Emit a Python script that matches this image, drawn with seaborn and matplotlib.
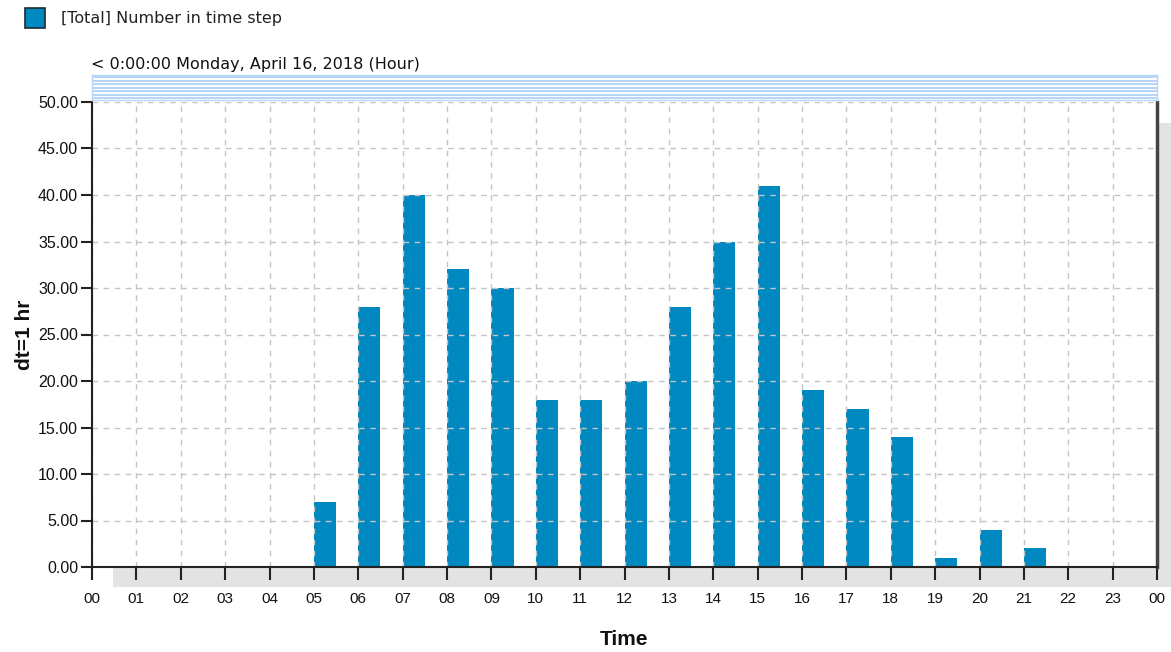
import numpy as np
import pandas as pd
import matplotlib
matplotlib.use("Agg")
import matplotlib.pyplot as plt
from matplotlib.patches import Rectangle
import seaborn as sns

# Hourly counts for the day
hours = [5, 6, 7, 8, 9, 10, 11, 12, 13, 14, 15, 16, 17, 18, 19, 20, 21]
counts = [7, 28, 40, 32, 30, 18, 18, 20, 28, 35, 41, 19, 17, 14, 1, 4, 2]
hour_labels = ["00", "01", "02", "03", "04", "05", "06", "07", "08", "09", "10", "11",
               "12", "13", "14", "15", "16", "17", "18", "19", "20", "21", "22", "23", "00"]
y_ticks = [0, 5, 10, 15, 20, 25, 30, 35, 40, 45, 50]
series_name = "[Total] Number in time step"
period_label = "< 0:00:00 Monday, April 16, 2018 (Hour)"

bar_color = "#0088C0"
grid_color = "#c4c4c4"

sns.set_theme(style="white")
plt.rcParams["font.family"] = ["Liberation Sans", "DejaVu Sans"]

df = pd.DataFrame({"hour": hours, "count": counts})

fig = plt.figure(figsize=(11.71, 6.52), dpi=100)
L, R, B, T = 92 / 1171, 1157 / 1171, 1 - 567 / 652, 1 - 102 / 652

# drop shadow behind the plot area
shadow = Rectangle((L + 21 / 1171, B - 20 / 652), R - L, T - B - 1 / 652,
                   transform=fig.transFigure, facecolor="#e3e3e3", edgecolor="none", zorder=-5)
fig.patches.append(shadow)

ax = fig.add_axes([L, B, R - L, T - B])
ax.set_facecolor("white")

# half-hour wide bars starting at each hour mark
ax.bar(df["hour"], df["count"], width=0.5, align="edge", color=bar_color,
       edgecolor="none", zorder=2)
sns.despine(ax=ax, top=True, right=False)

ax.set_xlim(0, 24)
ax.set_ylim(0, 50)
ax.set_xticks(range(25))
ax.set_xticklabels(hour_labels, fontsize=11)
ax.set_yticks(y_ticks)
ax.set_yticklabels([f"{v:.2f}" for v in y_ticks], fontsize=11.5)
ax.tick_params(axis="both", direction="out", width=1.5, color="#222222",
               labelcolor="#111111", bottom=True, left=True)
ax.tick_params(axis="x", length=9, pad=9)
ax.tick_params(axis="y", length=8, pad=2)
ax.grid(True, color=grid_color, linestyle=(0, (4, 4)), linewidth=1, zorder=3)
ax.set_axisbelow(False)
for sp in ["left", "bottom"]:
    ax.spines[sp].set_color("#222222")
    ax.spines[sp].set_linewidth(1.5)
ax.spines["right"].set_color("#444444")
ax.spines["right"].set_linewidth(2.5)
for sp in ax.spines.values():
    sp.set_zorder(5)

ax.set_xlabel("Time", fontsize=15, fontweight="bold", labelpad=17, color="#111111")
ax.set_ylabel("dt=1 hr", fontsize=15, fontweight="bold", labelpad=3, color="#111111")

# header band above the plot
hb = fig.add_axes([L, 1 - 100 / 652, R - L, 25 / 652])
hb.set_xlim(0, 1)
hb.set_ylim(0, 1)
hb.set_facecolor("white")
for y in np.linspace(0.08, 0.92, 7):
    hb.axhline(y, color="#a9cdf5", linewidth=1.2)
hb.set_xticks([])
hb.set_yticks([])
for sp in hb.spines.values():
    sp.set_color("#b8d6f7")
    sp.set_linewidth(1)

fig.text(91 / 1171, 1 - 65 / 652, period_label, fontsize=11.5, family="DejaVu Sans",
         color="#111111", va="center", ha="left")

# legend swatch and label
fig.patches.append(Rectangle((25 / 1171, 1 - 28 / 652), 20 / 1171, 20 / 652,
                             transform=fig.transFigure, facecolor=bar_color,
                             edgecolor="#1a2a33", linewidth=1.2))
fig.text(61 / 1171, 1 - 18 / 652, series_name, fontsize=11.5, family="DejaVu Sans",
         color="#222222", va="center", ha="left")

fig.savefig("out.png", dpi=100)
